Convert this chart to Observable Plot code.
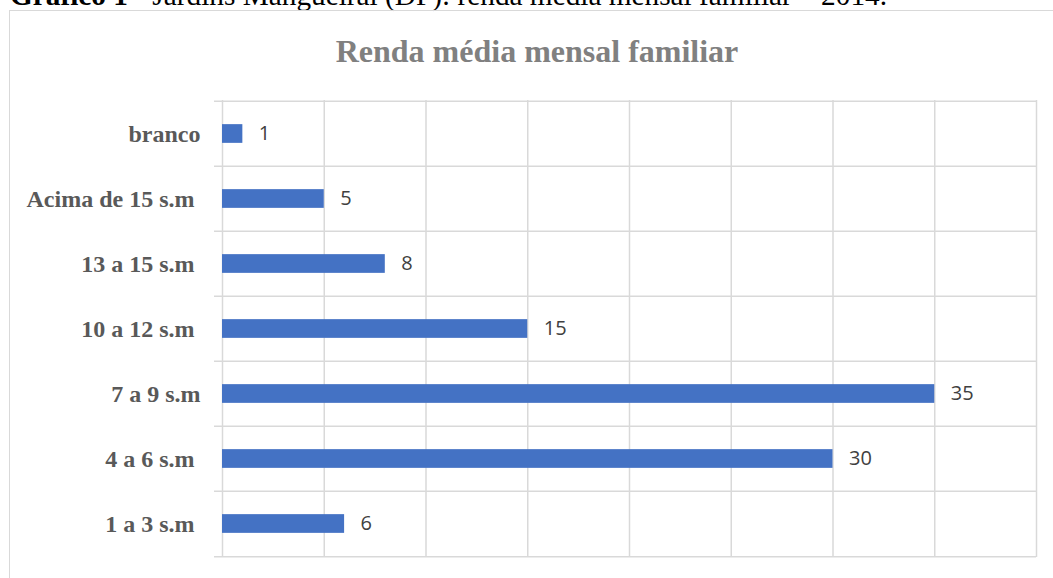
<!DOCTYPE html>
<html>
<head>
<meta charset="utf-8">
<script src="https://cdn.jsdelivr.net/npm/d3@7"></script>
<script src="https://cdn.jsdelivr.net/npm/@observablehq/plot@0.6"></script>
<style>
  html, body { margin: 0; padding: 0; background: #fff; }
  #wrap { position: relative; width: 1053px; height: 578px; overflow: hidden; background: #fff; }
  #caption { position: absolute; left: 10px; top: -19px; white-space: nowrap;
    font-family: "Liberation Serif", "Times New Roman", serif; font-size: 29.3px; line-height: 29px; color: #000; }
  #frame { position: absolute; left: 9px; top: 10px; width: 1100px; height: 600px;
    border: 1.5px solid #d9d9d9; box-sizing: border-box; }
  #title { position: absolute; left: 0; width: 1074px; top: 35px; text-align: center;
    font-family: "Liberation Serif", "Times New Roman", serif; font-weight: bold; font-size: 32px; line-height: 32px; color: #808080; }
  #chart { position: absolute; left: 0; top: 0; }
  #chart svg text { white-space: pre; }
</style>
</head>
<body>
<div id="wrap">
  <div id="caption"><b>Gráfico 1</b> - Jardins Mangueiral (DF): renda média mensal familiar – 2014.</div>
  <div id="frame"></div>
  <div id="title">Renda média mensal familiar</div>
  <div id="chart"></div>
</div>
<script>
const categories = ["branco", "Acima de 15 s.m ", "13 a 15 s.m ", "10 a 12 s.m ", "7 a 9 s.m", "4 a 6 s.m ", "1 a 3 s.m "];
const values = [1, 5, 8, 15, 35, 30, 6];
const xTicks = [0, 5, 10, 15, 20, 25, 30, 35, 40];

const data = categories.map((c, i) => ({cat: c, val: values[i]}));
const W = 1053, H = 578, mT = 100, mB = 21, mL = 222, mR = 17;
const step = (H - mT - mB) / categories.length;
const barH = 19;
const inset = (step - barH) / 2;
const grid = "#d9d9d9";

const plot = Plot.plot({
  width: W,
  height: H,
  marginTop: mT,
  marginBottom: mB,
  marginLeft: mL,
  marginRight: mR,
  style: {background: "transparent", overflow: "visible"},
  x: {domain: [0, 40], axis: null},
  y: {domain: categories, padding: 0, axis: null},
  marks: [
    Plot.ruleX(xTicks, {stroke: grid, strokeWidth: 1.5}),
    Plot.ruleY(categories, {y: d => d, dy: -step / 2, stroke: grid, strokeWidth: 1.5, insetLeft: -8}),
    Plot.ruleY([categories[categories.length - 1]], {y: d => d, dy: step / 2, stroke: grid, strokeWidth: 1.5, insetLeft: -8}),
    Plot.barX(data, {x: "val", y: "cat", fill: "#4472C4", insetTop: inset, insetBottom: inset}),
    Plot.text(data, {x: "val", y: "cat", text: d => String(d.val), textAnchor: "start", dx: 16,
      fontSize: 20, fontFamily: "Open Sans", fill: "#404040"}),
    Plot.axisY({tickSize: 0, tickPadding: 22, fontSize: 24, fontWeight: "bold",
      fontFamily: "Liberation Serif", fill: "#595959", label: null})
  ]
});
document.getElementById("chart").appendChild(plot);
</script>
</body>
</html>
